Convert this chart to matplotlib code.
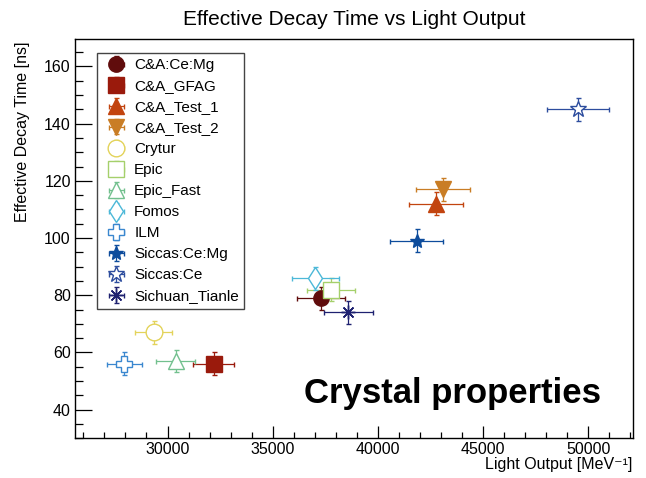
# -*- coding: utf-8 -*-
import matplotlib
matplotlib.use('Agg')
import matplotlib.pyplot as plt

#Datos de los cristales
nombres = ['C&A:Ce:Mg', 'C&A_GFAG', 'C&A_Test_1', 'C&A_Test_2', 'Crytur', 'Epic',
           'Epic_Fast', 'Fomos', 'ILM', 'Siccas:Ce:Mg', 'Siccas:Ce', 'Sichuan_Tianle']
light_output = [37300, 32200, 42780, 43110, 29340, 37790, 30380, 37030, 27940, 41850, 49510, 38600]
light_err = [1120, 965, 1285, 1295, 880, 1135, 910, 1110, 840, 1255, 1485, 1160]
decay = [79, 56, 112, 117, 67, 82, 57, 86, 56, 99, 145, 74]
decay_err = [4, 4, 4, 4, 4, 4, 4, 4, 4, 4, 4, 4]

#estilo de cada marcador: (color, marcador, relleno, tamaño)
estilos = [
    ('#600c0c', 'o', True, 11),
    ('#9a1a0c', 's', True, 11),
    ('#c2440f', '^', True, 11),
    ('#c97d25', 'v', True, 11),
    ('#e3d35a', 'o', False, 12),
    ('#a5d06b', 's', False, 11.5),
    ('#72c08e', '^', False, 12),
    ('#4cb8d8', 'd', False, 11.5),
    ('#3a87cf', 'P', False, 11),
    ('#0d4c9c', '*', True, 10),
    ('#2d4d9e', '*', False, 12),
    ('#1e2170', (8, 2, 0), True, 10),
]

plt.rcParams['font.family'] = ['Liberation Sans', 'DejaVu Sans']

fig = plt.figure(figsize=(6.46, 4.78), dpi=100)
ax = fig.add_axes([0.1161, 0.0831, 0.9803 - 0.1161, 0.9178 - 0.0831])

for i in range(len(nombres)):
    color, marker, lleno, ms = estilos[i]
    ax.errorbar(light_output[i], decay[i], xerr=light_err[i], yerr=decay_err[i],
                marker=marker, linestyle='none', color=color, ms=ms, mec=color,
                mfc=color if lleno else 'white', mew=1.0,
                elinewidth=0.9, capsize=1.8, capthick=0.9, label=nombres[i])

ax.set_xlim(25600, 52150)
ax.set_ylim(30, 169.5)
ax.set_xticks([30000, 35000, 40000, 45000, 50000])
ax.set_xticks(range(26000, 53000, 1000), minor=True)
ax.set_yticks([40, 60, 80, 100, 120, 140, 160])
ax.set_yticks(range(30, 170, 5), minor=True)

#ticks hacia adentro, estilo ROOT
ax.tick_params(axis='x', which='major', direction='in', length=8.6, width=0.9, labelsize=11.5, pad=3)
ax.tick_params(axis='x', which='minor', direction='in', length=4.3, width=0.9)
ax.tick_params(axis='y', which='major', direction='in', length=12, width=0.9, labelsize=11.5, pad=3)
ax.tick_params(axis='y', which='minor', direction='in', length=6, width=0.9)
for s in ax.spines.values():
    s.set_linewidth(1.0)

ax.set_title('Effective Decay Time vs Light Output', fontsize=15, pad=10)
ax.set_xlabel('Light Output [MeV\u207b\u00b9]', fontsize=11.5, loc='right')
ax.xaxis.set_label_coords(0.998, -0.047)
ax.set_ylabel('Effective Decay Time [ns]', fontsize=11.5, loc='top')
ax.yaxis.set_label_coords(-0.081, 0.995)

ax.text(0.676, 0.111, 'Crystal properties', transform=ax.transAxes, fontsize=25,
        fontweight='bold', ha='center', va='center')

leg = ax.legend(loc='upper left', bbox_to_anchor=(0.0389, 0.9664), borderaxespad=0,
                fontsize=11, handlelength=1.85, handletextpad=0.25, borderpad=0.35,
                labelspacing=0.46, fancybox=False, framealpha=1, edgecolor='#444444')
leg.get_frame().set_linewidth(1.0)

fig.savefig('out.png', dpi=100)
